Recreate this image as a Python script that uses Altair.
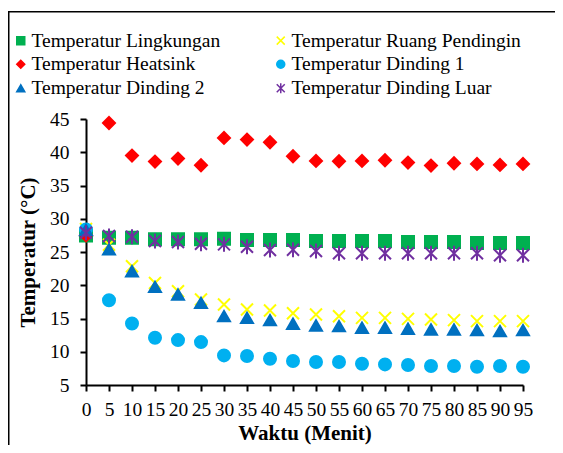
import altair as alt
import pandas as pd

waktu = [0, 5, 10, 15, 20, 25, 30, 35, 40, 45, 50, 55, 60, 65, 70, 75, 80, 85, 90, 95]

series_names = [
    "Temperatur Lingkungan",
    "Temperatur Ruang Pendingin",
    "Temperatur Heatsink",
    "Temperatur Dinding 1",
    "Temperatur Dinding 2",
    "Temperatur Dinding Luar",
]
# legend order (filled column by column: 3 rows x 2 columns)
legend_order = [
    "Temperatur Lingkungan",
    "Temperatur Heatsink",
    "Temperatur Dinding 2",
    "Temperatur Ruang Pendingin",
    "Temperatur Dinding 1",
    "Temperatur Dinding Luar",
]

lingkungan = [27.5, 27.15, 27.15, 26.9, 26.9, 26.9, 27.0, 26.8, 26.8, 26.8,
              26.65, 26.65, 26.65, 26.65, 26.5, 26.5, 26.5, 26.35, 26.35, 26.35]
ruang_pendingin = [28.45, 26.1, 22.85, 20.35, 19.1, 17.85, 17.1, 16.35, 16.2, 15.8,
                   15.6, 15.35, 15.1, 15.1, 14.95, 14.85, 14.75, 14.6, 14.6, 14.6]
heatsink = [27.5, 44.4, 39.5, 38.6, 39.05, 38.05, 42.15, 41.9, 41.5, 39.4,
            38.7, 38.65, 38.7, 38.8, 38.45, 38.0, 38.35, 38.25, 38.1, 38.25]
dinding_1 = [28.4, 17.75, 14.25, 12.1, 11.75, 11.45, 9.45, 9.35, 8.95, 8.6,
             8.45, 8.45, 8.2, 8.1, 8.0, 7.85, 7.85, 7.75, 7.85, 7.75]
dinding_2 = [28.3, 25.4, 22.1, 19.75, 18.6, 17.35, 15.35, 15.1, 14.75, 14.2,
             13.95, 13.85, 13.6, 13.6, 13.45, 13.35, 13.35, 13.25, 13.1, 13.25]
dinding_luar = [27.9, 27.4, 27.3, 26.65, 26.5, 26.25, 26.15, 25.8, 25.3, 25.35,
                25.15, 24.8, 24.8, 24.8, 24.8, 24.8, 24.8, 24.8, 24.5, 24.5]

color_map = {
    "Temperatur Lingkungan": "#00B050",
    "Temperatur Ruang Pendingin": "#FFFF00",
    "Temperatur Heatsink": "#FF0000",
    "Temperatur Dinding 1": "#00B0F0",
    "Temperatur Dinding 2": "#0070C0",
    "Temperatur Dinding Luar": "#7030A0",
}
shape_map = {
    "Temperatur Lingkungan": "square",
    "Temperatur Ruang Pendingin": "M-1,-1L1,1M-1,1L1,-1",
    "Temperatur Heatsink": "diamond",
    "Temperatur Dinding 1": "circle",
    "Temperatur Dinding 2": "triangle-up",
    "Temperatur Dinding Luar": "M-1,-1L1,1M-1,1L1,-1M0,-1.25L0,1.25",
}
y_ticks = [5, 10, 15, 20, 25, 30, 35, 40, 45]
x_ticks = waktu

all_values = [lingkungan, ruang_pendingin, heatsink, dinding_1, dinding_2, dinding_luar]
rows = []
for name, vals in zip(series_names, all_values):
    for t, v in zip(waktu, vals):
        rows.append({"Waktu": t, "Suhu": v, "Seri": name})
df = pd.DataFrame(rows)

colors = [color_map[n] for n in legend_order]
shapes = [shape_map[n] for n in legend_order]

FONT = "'Liberation Serif', 'Times New Roman', Tinos, 'DejaVu Serif', serif"
L, T, W, H = 78, 111, 437, 266

legend = alt.Legend(
    title=None, orient="none", legendX=-75, legendY=-88.5, columns=2,
    labelFont=FONT, labelFontSize=19.5, labelColor="black", labelLimit=400,
    labelOffset=1, columnPadding=50, rowPadding=3,
    symbolSize=64, symbolStrokeWidth=1.5,
)

points = alt.Chart(df).mark_point(filled=True, size=144, strokeWidth=2, opacity=1).encode(
    x=alt.X("Waktu:Q", title="Waktu (Menit)",
            scale=alt.Scale(domain=[0, 95], nice=False, zero=False),
            axis=alt.Axis(values=x_ticks, labelOverlap=False, labelFlush=False,
                          labelPadding=9, titlePadding=4, labelFont=FONT, titleFont=FONT)),
    y=alt.Y("Suhu:Q", title="Temperatur (°C)",
            scale=alt.Scale(domain=[5, 45], nice=False, zero=False),
            axis=alt.Axis(values=y_ticks, labelFlush=False, labelPadding=11,
                          titlePadding=11, labelFont=FONT, titleFont=FONT)),
    shape=alt.Shape("Seri:N", scale=alt.Scale(domain=legend_order, range=shapes), legend=legend),
    fill=alt.Fill("Seri:N", scale=alt.Scale(domain=legend_order, range=colors), legend=legend),
    stroke=alt.Stroke("Seri:N", scale=alt.Scale(domain=legend_order, range=colors), legend=legend),
)

frame = alt.Chart(pd.DataFrame({"a": [0]})).mark_rect(
    fill=None, stroke="black", strokeWidth=1.5
).encode(
    x=alt.value(-L + 0.75), x2=alt.value(W + 100),
    y=alt.value(-T + 3.75), y2=alt.value(H + 100),
)

chart = alt.layer(frame, points).properties(
    width=W, height=H,
    autosize=alt.AutoSizeParams(type="none"),
    padding={"left": L, "top": T, "right": 547 - L - W, "bottom": 437 - T - H},
).configure(font=FONT).configure_view(stroke=None).configure_axis(
    grid=False, domainColor="black", domainWidth=2, tickColor="black", tickWidth=2,
    tickSize=6, labelFont=FONT, labelFontSize=19.5, labelColor="black",
    titleFont=FONT, titleFontSize=21, titleFontWeight="bold", titleColor="black",
).configure_legend(labelFont=FONT)

chart.save("out.html", embed_options={"renderer": "svg", "actions": False})
